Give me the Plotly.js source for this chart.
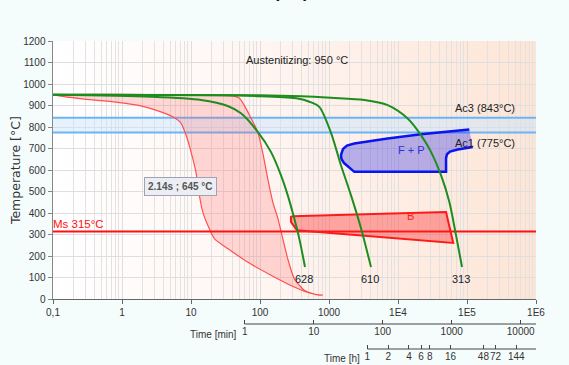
<!DOCTYPE html>
<html><head><meta charset="utf-8">
<script src="https://cdn.plot.ly/plotly-3.0.1.min.js"></script>
<style>html,body{margin:0;padding:0;background:#f5fcfc;}#chart{width:569px;height:365px;}</style>
</head><body><div id="chart"></div>
<script>
// ---- axis tick definitions ----
const secTickVals = [0.1, 1, 10, 100, 1000, 1e4, 1e5, 1e6];
const secTickText = ['0,1', '1', '10', '100', '1000', '1E4', '1E5', '1E6'];
const minTickVals = [1, 10, 100, 1000, 10000];
const minTickText = ['1', '10', '100', '1000', '10000'];
const hourTickVals = [1, 2, 4, 6, 8, 16, 48, 72, 144];
const hourTickText = ['1', '2', '4', '6', '8', '16', '48', '72', '144'];

// ---- critical temperatures ----
const austenitizing = 950;
const ac3 = 843;
const ac1 = 775;
const ms = 315;

// ---- red transformation band (time s, temperature °C) ----
const redLeftX = [0.1, 0.284, 0.866, 1.88, 3.67, 5.43, 7.16, 8.47, 10, 11.8, 13.2, 14.8, 17.5, 21.8, 34, 66, 144, 314, 548, 811];
const redLeftY = [950, 930, 915, 899, 871, 848, 819, 763, 685, 591, 484, 406, 344, 282, 236, 173, 112, 57, 27, 19];
const redRightX = [0.1, 14, 40, 50, 59, 74, 92.7, 109, 129, 153, 181, 213, 252, 314, 439, 685, 811];
const redRightY = [950, 949, 945, 935, 902, 842, 778, 685, 563, 453, 377, 284, 189, 96, 42, 20, 19];

// ---- F + P region ----
const fpX = [108000, 21500, 7090, 2330, 1820, 1595, 1490, 1518, 1650, 2330, 49700, 49700, 51300, 56700, 73300, 121000];
const fpY = [789, 767, 747, 724, 714, 698, 670, 651, 633, 592, 592, 656, 674, 686, 696, 708];

// ---- B region ----
const bX = [298, 49700, 63200, 343, 281, 281, 298];
const bY = [386, 406, 262, 321, 360, 383, 386];

// ---- cooling curves ----
const cool1X = [0.1, 2.63, 14, 34, 53, 92.7, 144, 201, 252, 314, 371, 449];
const cool1Y = [950, 941, 926, 898, 864, 778, 685, 577, 484, 375, 282, 150];
const cool2X = [0.1, 30, 103, 352, 520, 723, 1069, 1490, 2080, 2910, 4060];
const cool2Y = [950, 948, 943, 933, 918, 894, 773, 623, 484, 330, 150];
const cool3X = [0.1, 100, 400, 1069, 3250, 7090, 13800, 21500, 30100, 42000, 55400, 69300, 84700];
const cool3Y = [950, 948, 943, 936, 926, 902, 840, 763, 685, 577, 453, 298, 150];
const coolLabels = ['628', '610', '313'];

const fullX = [0.1, 1e6];
const LG = Math.log10;

const green = '#1e8c1e';
const traces = [
  {x: fullX, y: [ac1, ac1], mode: 'lines', line: {color: '#6cb4f5', width: 2}},
  {x: fullX, y: [ac3, ac3], mode: 'lines', line: {color: '#6cb4f5', width: 2}, fill: 'tonexty', fillcolor: 'rgba(200,228,255,0.45)'},
  {x: redRightX.concat(redLeftX.slice().reverse()), y: redRightY.concat(redLeftY.slice().reverse()),
   mode: 'lines', line: {color: '#ff5050', width: 1.2, shape: 'spline', smoothing: 0.6}, fill: 'toself', fillcolor: 'rgba(255,90,90,0.22)'},
  {x: fullX, y: [ms, ms], mode: 'lines', line: {color: '#ff1010', width: 2}},
  {x: bX, y: bY, mode: 'lines', line: {color: '#ff1a1a', width: 2}, fill: 'toself', fillcolor: 'rgba(255,40,40,0.38)'},
  {x: fpX, y: fpY, mode: 'lines', line: {color: '#0a14f0', width: 2.5}, fill: 'toself', fillcolor: 'rgba(20,20,230,0.3)'},
  {x: cool1X, y: cool1Y, mode: 'lines', line: {color: green, width: 2, shape: 'spline', smoothing: 0.8}},
  {x: cool2X, y: cool2Y, mode: 'lines', line: {color: green, width: 2, shape: 'spline', smoothing: 0.8}},
  {x: cool3X, y: cool3Y, mode: 'lines', line: {color: green, width: 2, shape: 'spline', smoothing: 0.8}},
  {x: [1], y: [0], xaxis: 'x2', yaxis: 'y', mode: 'markers', marker: {opacity: 0}},
  {x: [1], y: [0], xaxis: 'x3', yaxis: 'y', mode: 'markers', marker: {opacity: 0}}
];
traces.forEach(t => { t.showlegend = false; t.hoverinfo = 'skip'; });

// minor grid values (1..9 per decade)
const gridVals = [];
for (let e = -1; e < 6; e++) for (let m = 2; m <= 9; m++) gridVals.push(m * Math.pow(10, e));

const F = 'Liberation Sans, Arial, sans-serif';
const tickFont = {family: F, size: 10, color: '#333'};
const yDom0 = (360 - 299.3) / 319;
const pMin = (360 - 324) / 319;
const pHour = (360 - 349) / 319;

const bgSvg = '<svg xmlns="http://www.w3.org/2000/svg" width="200" height="100" preserveAspectRatio="none"><defs><linearGradient id="g" x1="0" y1="0" x2="1" y2="0"><stop offset="0" stop-color="#ffffff"/><stop offset="0.4" stop-color="#fff6f3"/><stop offset="1" stop-color="#fde5d6"/></linearGradient></defs><rect width="200" height="100" fill="url(#g)"/></svg>';

const curveEnds = [[cool1X, cool1Y], [cool2X, cool2Y], [cool3X, cool3Y]];
const annotations = [
  {text: '(b)', xref: 'paper', yref: 'paper', x: 0.493, y: 1.172, xanchor: 'center', yanchor: 'middle', showarrow: false,
   font: {family: 'DejaVu Sans', size: 30, color: '#111'}},
  {text: 'Austenitizing: ' + austenitizing + ' °C', x: 1.768, y: 1114, xanchor: 'left', yanchor: 'middle', showarrow: false, font: {family: F, size: 11, color: '#222'}},
  {text: 'Ac3 (' + ac3 + '°C)', x: 4.793, y: 890, xanchor: 'left', yanchor: 'middle', showarrow: false, font: {family: F, size: 11, color: '#222'}},
  {text: 'Ac1 (' + ac1 + '°C)', x: 4.793, y: 726, xanchor: 'left', yanchor: 'middle', showarrow: false, font: {family: F, size: 11, color: '#222'}},
  {text: 'Ms ' + ms + '°C', x: -1, y: 350, xanchor: 'left', yanchor: 'middle', xshift: -2, showarrow: false, font: {family: F, size: 11.5, color: '#ff1010'}},
  {text: 'F + P', x: 4.199, y: 695, xanchor: 'center', yanchor: 'middle', showarrow: false, font: {family: F, size: 11, color: '#3030d8'}},
  {text: 'B', x: 4.188, y: 388, xanchor: 'center', yanchor: 'middle', showarrow: false, font: {family: F, size: 11, color: '#ff2020'}},
  {text: '<b>2.14s ; 645 °C</b>', x: 0.8406, y: 523, xanchor: 'center', yanchor: 'middle', showarrow: false,
   font: {family: F, size: 10, color: '#555'}, bgcolor: '#eceef4', bordercolor: '#9fa4b2', borderwidth: 1, borderpad: 3},
  {text: 'Time [min]', xref: 'paper', yref: 'paper', x: 0.386, y: (360 - 334) / 319, xanchor: 'right', yanchor: 'middle', showarrow: false, font: {family: F, size: 10, color: '#333'}},
  {text: 'Time [h]', xref: 'paper', yref: 'paper', x: 0.640, y: (360 - 358) / 319, xanchor: 'right', yanchor: 'middle', showarrow: false, font: {family: F, size: 10, color: '#333'}}
];
curveEnds.forEach((c, i) => {
  annotations.push({text: coolLabels[i], x: LG(c[0][c[0].length - 1]), y: c[1][c[1].length - 1], yshift: -12, xshift: -1,
    xanchor: 'center', yanchor: 'middle', showarrow: false, font: {family: F, size: 11, color: '#222'}});
});

const layout = {
  width: 569, height: 365,
  margin: {l: 53, r: 33, t: 41, b: 5},
  paper_bgcolor: '#f5fcfc', plot_bgcolor: 'rgba(0,0,0,0)',
  hovermode: false, showlegend: false,
  font: {family: F, size: 10, color: '#333'},
  xaxis: {type: 'log', range: [-1, 6], tickmode: 'array', tickvals: secTickVals, ticktext: secTickText, tickangle: 0,
    showgrid: true, gridcolor: '#dedede', gridwidth: 1, zeroline: false,
    showline: true, linecolor: '#666', linewidth: 1, ticks: 'outside', ticklen: 4, tickcolor: '#666', tickfont: tickFont,
    minor: {tickmode: 'array', tickvals: gridVals, showgrid: true, gridcolor: '#e2e2e2', gridwidth: 1, ticks: ''}},
  xaxis2: {type: 'log', overlaying: 'x', anchor: 'free', position: pMin, range: [LG(0.1 / 60), LG(1e6 / 60)],
    tickmode: 'array', tickvals: minTickVals, ticktext: minTickText, tickangle: 0, showgrid: false, zeroline: false,
    showline: false, ticks: 'inside', ticklen: 4, tickcolor: '#444', tickfont: tickFont},
  xaxis3: {type: 'log', overlaying: 'x', anchor: 'free', position: pHour, range: [LG(0.1 / 3600), LG(1e6 / 3600)],
    tickmode: 'array', tickvals: hourTickVals, ticktext: hourTickText, tickangle: 0, showgrid: false, zeroline: false,
    showline: false, ticks: 'inside', ticklen: 4, tickcolor: '#444', tickfont: tickFont},
  yaxis: {range: [0, 1200], domain: [yDom0, 1], dtick: 100, showgrid: true, gridcolor: '#dedede', zeroline: false,
    showline: true, linecolor: '#888', linewidth: 1.5, ticks: 'outside', ticklen: 4, tickcolor: '#888', tickfont: tickFont,
    title: {text: 'Temperature [°C]', font: {family: 'DejaVu Sans', size: 12.5, color: '#333'}, standoff: 0}},
  shapes: [
    {type: 'line', xref: 'paper', yref: 'paper', x0: (244.7 - 53) / 483, x1: 1, y0: pMin, y1: pMin, line: {color: '#444', width: 1}},
    {type: 'line', xref: 'paper', yref: 'paper', x0: (367.4 - 53) / 483, x1: 1, y0: pHour, y1: pHour, line: {color: '#444', width: 1}}
  ],
  images: [{source: 'data:image/svg+xml;base64,' + btoa(bgSvg), xref: 'x domain', yref: 'y domain', x: 0, y: 1, sizex: 1, sizey: 1,
    xanchor: 'left', yanchor: 'top', sizing: 'stretch', layer: 'below'}],
  annotations: annotations
};

Plotly.newPlot('chart', traces, layout, {staticPlot: true, displayModeBar: false});
</script></body></html>
